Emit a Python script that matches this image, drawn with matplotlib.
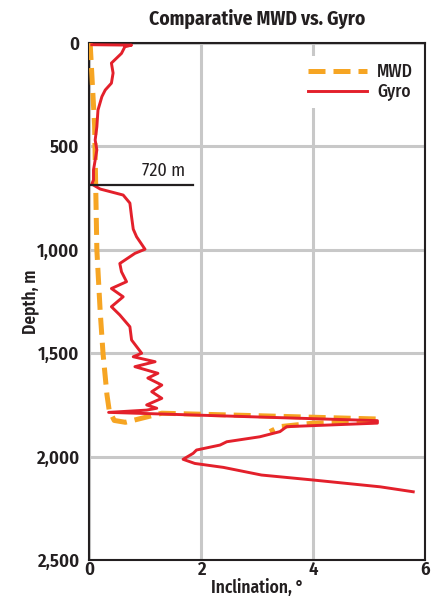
import matplotlib
matplotlib.use("Agg")
import matplotlib.pyplot as plt

plt.rcParams['font.family'] = ['Fira Sans Condensed', 'DejaVu Sans']

# Gyro survey: inclination (deg) vs depth (m)
gyro_inc = [0.05, 0.76, 0.64, 0.58, 0.40, 0.43, 0.40, 0.29, 0.23, 0.16, 0.14, 0.11, 0.14, 0.11, 0.08, 0.08, 0.05,
            0.20, 0.61, 0.73, 0.76, 0.79, 0.85, 1.00, 0.82, 0.55, 0.58, 0.67, 0.40, 0.61, 0.40, 0.55,
            0.73, 0.76, 0.94, 0.79, 1.18, 0.82, 1.23, 1.05, 1.30, 1.12, 1.30, 1.03, 1.21, 1.03,
            0.35, 5.15, 5.15, 3.53, 3.41, 3.05, 2.46, 2.34, 1.92, 1.86, 1.68, 1.89, 2.40, 3.08, 4.00, 5.20, 5.79]
gyro_depth = [8, 10, 18, 50, 97, 145, 194, 227, 259, 324, 405, 469, 517, 566, 614, 662, 682,
              706, 735, 774, 840, 900, 937, 997, 1017, 1066, 1106, 1154, 1187, 1227, 1275, 1315,
              1372, 1436, 1500, 1517, 1541, 1565, 1597, 1620, 1654, 1686, 1718, 1750, 1766, 1775,
              1786, 1826, 1838, 1855, 1879, 1904, 1928, 1944, 1968, 1984, 2013, 2033, 2052, 2089, 2113, 2146, 2170]

# MWD survey
mwd_inc = [0.02, 0.06, 0.10, 0.14, 0.20, 0.25, 0.32, 0.36, 0.45, 0.65, 1.30, 3.00, 5.15, 5.15, 4.00, 3.41, 3.23]
mwd_depth = [0, 200, 400, 1000, 1300, 1500, 1700, 1775, 1825, 1834, 1790, 1802, 1818, 1830, 1838, 1855, 1879]

annot_depth = 685
annot_text = "720 m"

dark = '#231F20'
fig = plt.figure(figsize=(4.4, 5.98), dpi=100)
ax = fig.add_axes([0.2023, 0.0635, 0.7636, 0.8645])

ax.plot(mwd_inc, mwd_depth, color='#F6A523', lw=3.6, ls=(0, (3.4, 1.6)), label='MWD', zorder=3)
ax.plot(gyro_inc, gyro_depth, color='#E3202B', lw=2.1, label='Gyro', zorder=4)

ax.plot([0, 1.86], [annot_depth, annot_depth], color=dark, lw=1.6, zorder=5)
ax.text(1.72, annot_depth - 24, annot_text, ha='right', va='bottom', fontsize=13, color=dark)

ax.set_xlim(0, 6)
ax.set_ylim(2500, 0)
ax.set_xticks([0, 2, 4, 6])
ax.set_yticks([0, 500, 1000, 1500, 2000, 2500])
ax.set_yticklabels(['0', '500', '1,000', '1,500', '2,000', '2,500'])
ax.grid(True, color='#C8C8C8', lw=2.2, zorder=0)
ax.set_axisbelow(True)
ax.tick_params(length=0, labelsize=13.5, colors=dark)
ax.tick_params(axis='x', pad=1)
ax.tick_params(axis='y', pad=7)
for lab in ax.get_xticklabels() + ax.get_yticklabels():
    lab.set_fontweight('semibold')
for s in ax.spines.values():
    s.set_color(dark)
    s.set_linewidth(1.5)

ax.set_xlabel('Inclination, °', fontsize=12.5, fontweight='semibold', color=dark, labelpad=0)
ax.set_ylabel('Depth, m', fontsize=12.5, fontweight='semibold', color=dark, labelpad=-3)
ax.set_title('Comparative MWD vs. Gyro', fontsize=14, fontweight='bold', color=dark, pad=13)

leg = ax.legend(loc='upper right', bbox_to_anchor=(1.0, 0.985), frameon=True, fontsize=12.5,
                handlelength=3.4, borderaxespad=0.3, labelspacing=0.15, handletextpad=0.6)
leg.get_frame().set_facecolor('white')
leg.get_frame().set_edgecolor('none')
leg.get_frame().set_alpha(1)
for t in leg.get_texts():
    t.set_fontweight('medium')
    t.set_color(dark)

fig.savefig('out.png', dpi=100)
